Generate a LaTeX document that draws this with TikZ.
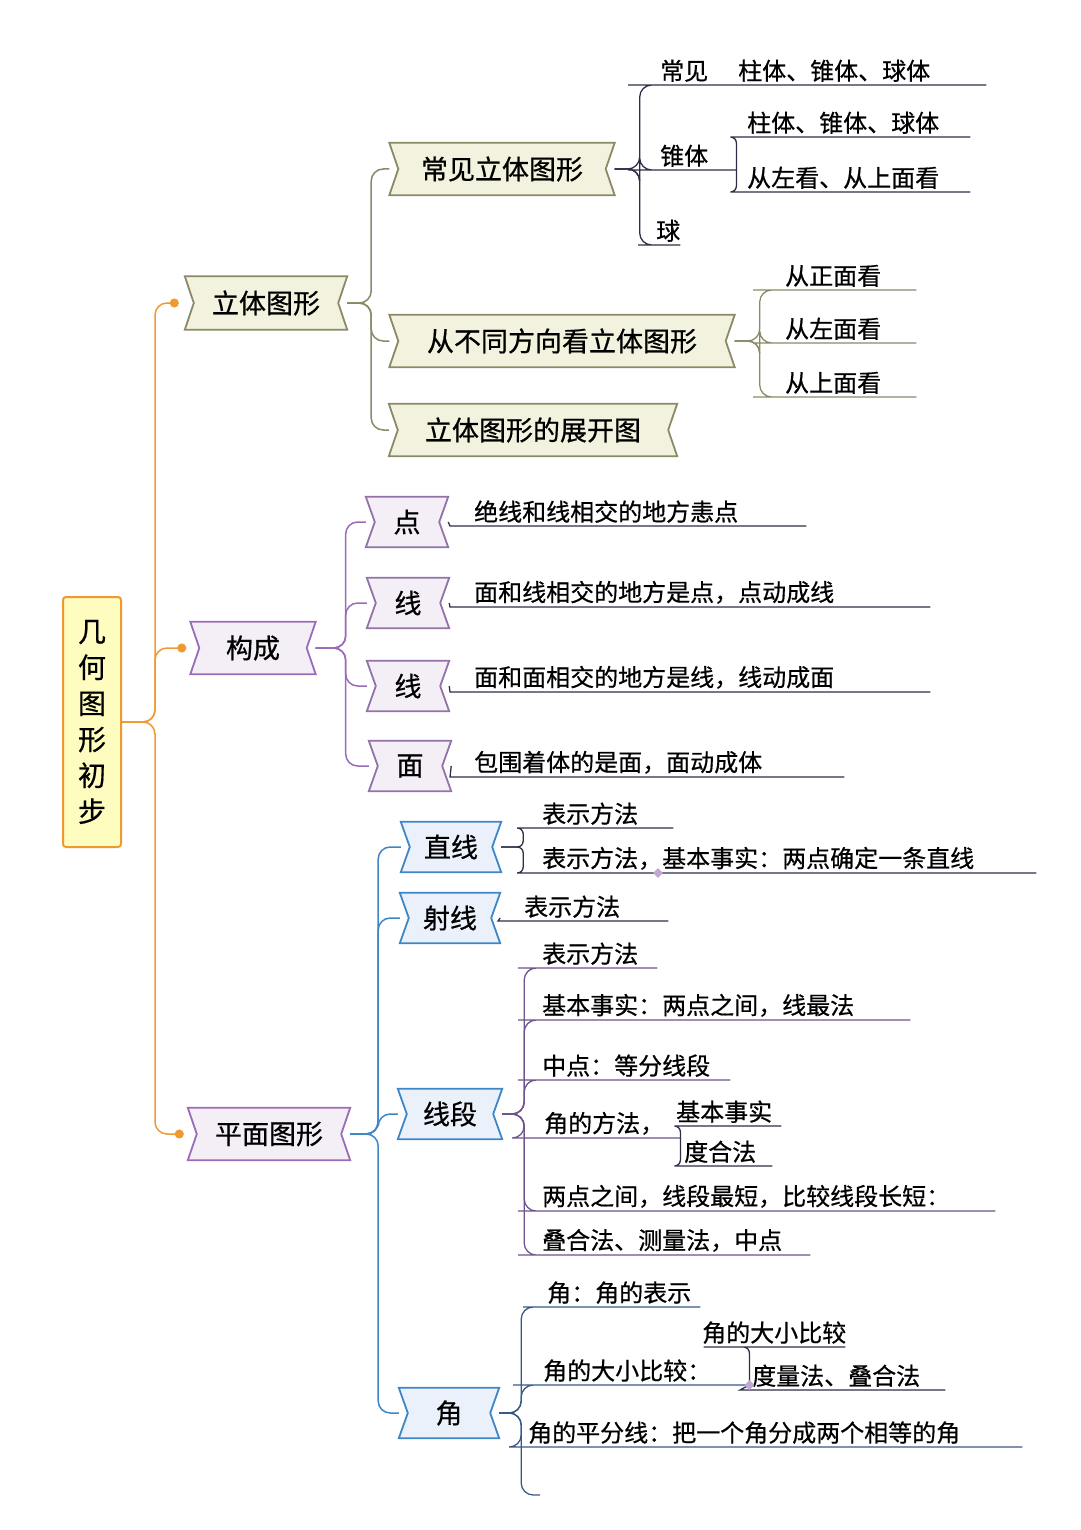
\documentclass[tikz,border=0pt]{standalone}
\usepackage{fontspec}
\setmainfont{Noto Sans CJK SC}[FakeBold=0.6,AutoFakeBold=0.6]
\usetikzlibrary{arrows.meta,backgrounds,shapes.geometric}
\definecolor{trunkc}{HTML}{EE9A30}
\definecolor{olivec}{HTML}{8A8A66}
\definecolor{olivef}{HTML}{F2F2DE}
\definecolor{purpc}{HTML}{9A6CB8}
\definecolor{purpf}{HTML}{F4EEF7}
\definecolor{bluec}{HTML}{3E86C6}
\definecolor{bluef}{HTML}{EAF1FA}
\definecolor{inkc}{HTML}{2E2E48}
\tikzset{
    % ribbon boxes with notched ends
    ribbon/.style n args={2}{
           inner xsep=0pt, inner ysep=0pt,
           font=\fontsize{27}{30}\bfseries,
           append after command={\pgfextra{
             \begin{pgfonlayer}{background}
             \draw[#1,fill=#2,line width=1.8pt]
               (\tikzlastnode.north west) -- (\tikzlastnode.north east)
               -- ([xshift=-9pt]\tikzlastnode.east) -- (\tikzlastnode.south east)
               -- (\tikzlastnode.south west) -- ([xshift=9pt]\tikzlastnode.west) -- cycle;
             \end{pgfonlayer}}}},
    % underlined leaf text
    leaf/.style={
           anchor=south west,
           inner xsep=12pt, inner ysep=3pt,
           font=\fontsize{24}{27}\bfseries,
           text width=#1-24pt, align=left},
    br/.style={rounded corners=12pt, line width=1.5pt},
    sbr/.style={rounded corners=6pt, line width=1.3pt},
    ul/.style={line width=1.3pt, inkc}
}
\begin{document}
\begin{tikzpicture}[x=1pt,y=-1pt]
\useasboundingbox (0,0) rectangle (1080,1530);
% root
\node[draw=trunkc, fill=yellow!25, line width=2pt, rounded corners=3pt,
      minimum width=58pt, minimum height=250pt, text width=30pt, align=center,
      font=\fontsize{28}{36}\bfseries] (root) at (92,722) {几\\何\\图\\形\\初\\步};
% level one
\node[ribbon={olivec}{olivef}, minimum width=162pt, minimum height=53pt] (solid) at (266,303) {立体图形};
\node[ribbon={purpc}{purpf}, minimum width=125pt, minimum height=52pt] (make) at (253,648) {构成};
\node[ribbon={purpc}{purpf}, minimum width=162pt, minimum height=52pt] (plane) at (269,1134) {平面图形};
\draw[br,trunkc,-{Circle[length=9pt]}] (root.east) -- ++(33,0) |- ([xshift=-6pt]solid.west);
\draw[br,trunkc,-{Circle[length=9pt]}] (root.east) -- ++(33,0) |- ([xshift=-4pt]make.west);
\draw[br,trunkc,-{Circle[length=9pt]}] (root.east) -- ++(33,0) |- ([xshift=-4pt]plane.west);
% solid figures
\node[ribbon={olivec}{olivef}, minimum width=225pt, minimum height=52pt] (common) at (502,169) {常见立体图形};
\node[ribbon={olivec}{olivef}, minimum width=345pt, minimum height=52pt] (views) at (562,341) {从不同方向看立体图形};
\node[ribbon={olivec}{olivef}, minimum width=288pt, minimum height=52pt] (net) at (533,430) {立体图形的展开图};
\foreach \n in {common,views,net}
  \draw[br,olivec] (solid.east) -- ++(24,0) |- (\n.west);
\node[leaf=330pt, inner xsep=20pt] (k1) at (640,85) {常见\hspace{30pt}柱体、锥体、球体};
\node[leaf=80pt, inner xsep=20pt] (k2) at (640,170) {锥体};
\node[leaf=235pt] (k21) at (735,137) {柱体、锥体、球体};
\node[leaf=235pt] (k22) at (735,192) {从左看、从上面看};
\node[leaf=42pt, inner xsep=6pt] (k3) at (650,245) {球};
\foreach \n in {k1,k2,k3}
  \draw[br,ul] (common.east) -- ++(25,0) |- (\n.south west) -- (\n.south east);
\foreach \n in {k21,k22}
  \draw[sbr,ul] (k2.south east) |- (\n.south west) -- (\n.south east);
\node[leaf=135pt, inner xsep=20pt] (v1) at (765,290) {从正面看};
\node[leaf=135pt, inner xsep=20pt] (v2) at (765,343) {从左面看};
\node[leaf=135pt, inner xsep=20pt] (v3) at (765,397) {从上面看};
\foreach \n in {v1,v2,v3}
  \draw[br,ul,olivec] (views.east) -- ++(25,0) |- (\n.south west) -- (\n.south east);
% make up
\node[ribbon={purpc!70!gray}{purpf}, minimum width=82pt, minimum height=50pt] (p1) at (407,522) {点};
\node[ribbon={purpc!70!gray}{purpf}, minimum width=82pt, minimum height=50pt] (p2) at (408,603) {线};
\node[ribbon={purpc!70!gray}{purpf}, minimum width=82pt, minimum height=50pt] (p3) at (408,686) {线};
\node[ribbon={purpc!70!gray}{purpf}, minimum width=82pt, minimum height=50pt] (p4) at (410,766) {面};
\foreach \n in {p1,p2,p3,p4}
  \draw[br,purpc] (make.east) -- ++(30,0) |- (\n.west);
\node[leaf=332pt, inner xsep=24pt] (a1) at (450,526) {绝线和线相交的地方恚点};
\node[leaf=456pt, inner xsep=24pt] (a2) at (450,607) {面和线相交的地方是点，点动成线};
\node[leaf=456pt, inner xsep=24pt] (a3) at (450,692) {面和面相交的地方是线，线动成面};
\node[leaf=370pt, inner xsep=24pt] (a4) at (450,777) {包围着体的是面，面动成体};
\foreach \i in {1,...,4}
  \draw[ul] (p\i.east) -- (a\i.south west) -- (a\i.south east);
% plane figures
\node[ribbon={bluec}{bluef}, minimum width=100pt, minimum height=50pt] (line) at (451,847) {直线};
\node[ribbon={bluec}{bluef}, minimum width=100pt, minimum height=50pt] (ray) at (450,918) {射线};
\node[ribbon={bluec}{bluef}, minimum width=104pt, minimum height=50pt] (seg) at (450,1114) {线段};
\node[ribbon={bluec}{bluef}, minimum width=100pt, minimum height=50pt] (ang) at (449,1413) {角};
\foreach \n in {line,ray,seg,ang}
  \draw[br,bluec] (plane.east) -- ++(28,0) |- (\n.west);
\node[leaf=135pt, inner xsep=20pt] (z1) at (522,828) {表示方法};
\node[leaf=498pt, inner xsep=20pt] (z2) at (522,873) {表示方法，基本事实：两点确定一条直线};
\foreach \n in {z1,z2}
  \draw[sbr,ul] (line.east) -- ++(22,0) |- (\n.south west) -- (\n.south east);
\node[fill=purpc!60, diamond, inner sep=2.5pt] at (658,873) {};
\node[leaf=142pt, inner xsep=26pt] (s1) at (498,921) {表示方法};
\draw[ul] (ray.east) -- (s1.south west) -- (s1.south east);
\node[leaf=127pt] (d1) at (530,968) {表示方法};
\node[leaf=380pt] (d2) at (530,1020) {基本事实：两点之间，线最法};
\node[leaf=200pt] (d3) at (530,1080) {中点：等分线段};
\node[leaf=136pt, inner xsep=24pt] (d4) at (520,1138) {角的方法，};
\node[leaf=125pt, inner xsep=4pt] (d41) at (672,1126) {基本事实};
\node[leaf=100pt] (d42) at (672,1166) {度合法};
\node[leaf=465pt] (d5) at (530,1211) {两点之间，线段最短，比较线段长短：};
\node[leaf=280pt] (d6) at (530,1255) {叠合法、测量法，中点};
\foreach \n in {d1,d2,d3,d4,d5,d6}
  \draw[br,ul,purpc!60!inkc] (seg.east) -- ++(22,0) |- (\n.south west) -- (\n.south east);
\foreach \n in {d41,d42}
  \draw[sbr,ul] (d4.south east) |- (\n.south west) -- (\n.south east);
\node[leaf=165pt] (j1) at (535,1307) {角：角的表示};
\node[leaf=212pt, inner xsep=18pt] (j2) at (525,1385) {角的大小比较：};
\node[leaf=165pt, inner xsep=2pt] (j21) at (700,1347) {角的大小比较};
\node[leaf=205pt] (j22) at (740,1390) {度量法、叠合法};
\node[leaf=510pt, inner xsep=8pt] (j3) at (520,1447) {角的平分线：把一个角分成两个相等的角};
\coordinate (j4) at (540,1495);
\foreach \n in {j1,j2,j3}
  \draw[br,ul,bluec!50!inkc] (ang.east) -- ++(22,0) |- (\n.south west) -- (\n.south east);
\draw[br,ul,bluec!50!inkc] (ang.east) -- ++(22,0) |- (j4);
\draw[ul] (j2.south east) -- (j22.south west) -- (j22.south east);
\draw[sbr,ul] (j2.south east) |- (j21.south west) -- (j21.south east);
\node[fill=purpc!60, diamond, inner sep=2.5pt] at (j2.south east) {};
\end{tikzpicture}
\end{document}
